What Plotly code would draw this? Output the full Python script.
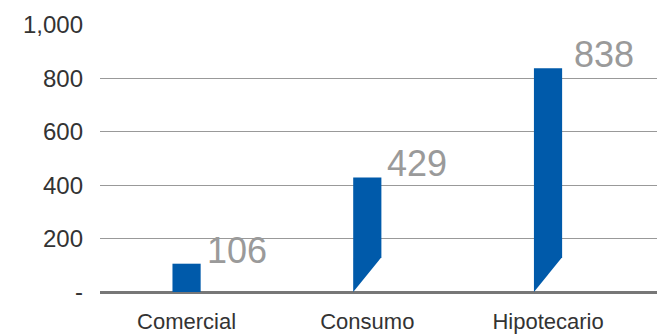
import plotly.graph_objects as go

categories = ["Comercial", "Consumo", "Hipotecario"]
values = [106, 429, 838]
value_labels = ["106", "429", "838"]
y_tickvals = [0, 200, 400, 600, 800, 1000]
y_ticktext = ["-", "200", "400", "600", "800", "1,000"]

BAR_COLOR = "#005AAA"
HALF_W = 0.078      # half bar width in category units
CUT = 130           # height (data units) of the diagonal cut at the bar foot

fig = go.Figure()
for i, v in enumerate(values):
    if v > CUT:
        xs = [i - HALF_W, i - HALF_W, i + HALF_W, i + HALF_W, i - HALF_W]
        ys = [0, v, v, CUT, 0]
    else:
        xs = [i - HALF_W, i - HALF_W, i + HALF_W, i + HALF_W, i - HALF_W]
        ys = [0, v, v, 0, 0]
    fig.add_trace(go.Scatter(x=xs, y=ys, fill="toself", fillcolor=BAR_COLOR,
                             mode="lines", line=dict(width=0, color=BAR_COLOR),
                             hoverinfo="skip", showlegend=False))
    fig.add_annotation(x=i + HALF_W, y=v, text=value_labels[i], showarrow=False,
                       xanchor="left", yanchor="bottom", xshift=4 + (6 if i == 2 else 0), yshift=-9,
                       font=dict(family="Liberation Sans, Arial, sans-serif", size=36, color="#9a9a9a"))

fig.update_layout(
    width=657, height=334,
    margin=dict(l=100, r=0, t=25, b=42),
    paper_bgcolor="white", plot_bgcolor="white",
    showlegend=False,
    font=dict(family="Liberation Sans, Arial, sans-serif", color="#333333"),
)
fig.update_xaxes(
    range=[-0.479, 2.603], tickvals=list(range(len(categories))), ticktext=categories,
    showgrid=False, zeroline=False, showline=False, ticks="",
    tickfont=dict(size=22, color="#333333"), ticklabelstandoff=14,
)
fig.update_yaxes(
    range=[0, 1000], tickvals=y_tickvals, ticktext=y_ticktext,
    showgrid=True, gridcolor="#999999", gridwidth=1,
    zeroline=True, zerolinecolor="#777777", zerolinewidth=3,
    showline=False, ticks="",
    tickfont=dict(size=24, color="#333333"), ticklabelstandoff=16,
)

fig.write_html("out.html")
